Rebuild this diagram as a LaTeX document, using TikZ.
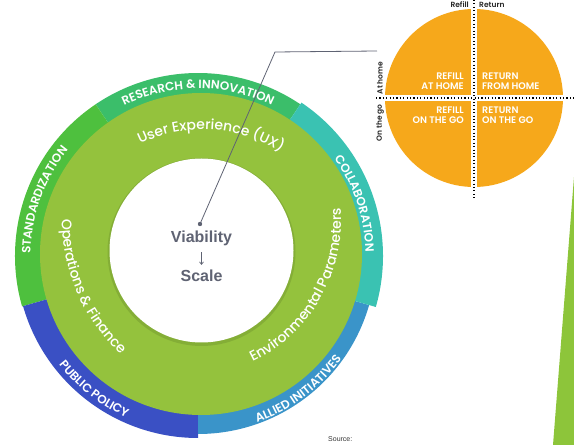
\documentclass[tikz,border=0pt]{standalone}
\usepackage{fontspec}
\setmainfont{Liberation Sans}
\newfontfamily\ringfont{Poppins}[UprightFont={* Medium},BoldFont={* SemiBold}]
\usetikzlibrary{arrows.meta,decorations.text}
\definecolor{research}{HTML}{3BBE6A}
\definecolor{standard}{HTML}{4EC03E}
\definecolor{collab}{HTML}{3AC2B2}
\definecolor{allied}{HTML}{3A94C9}
\definecolor{policy}{HTML}{3A50C4}
\definecolor{leaf}{HTML}{94C23D}
\definecolor{sun}{HTML}{F6A81B}
\definecolor{slate}{HTML}{5F6373}
\begin{document}
\begin{tikzpicture}[x=1pt,y=1pt,
  outer label/.style={decorate,decoration={text along path,text align=center,text color=white,
    text={|\ringfont\bfseries\fontsize{12}{12}\selectfont|#1}}},
  inner label/.style={decorate,decoration={text along path,text align=center,text color=white,
    text={|\ringfont\fontsize{14}{14}\selectfont|#1}}},
  quad node/.style={text=white,font=\ringfont\bfseries\fontsize{9.5}{10}\selectfont,inner sep=0pt},
  axis node/.style={text=black!85,font=\ringfont\bfseries\fontsize{7.5}{7.5}\selectfont,inner sep=0pt},
  core text/.style={text=slate,font=\bfseries\fontsize{16}{16}\selectfont,inner sep=0pt},
  dots/.style={line width=1.1pt,dash pattern=on 1.1pt off 2.3pt}]
\useasboundingbox (0,0) rectangle (574,445);
\coordinate (c) at (198,189);
\fill[research] (c) -- ([shift={(56:183pt)}]c) arc[start angle=56,end angle=124,radius=183pt] -- cycle;
\fill[standard] (c) -- ([shift={(124:183pt)}]c) arc[start angle=124,end angle=196,radius=183pt] -- cycle;
\fill[policy] (c) -- ([shift={(196:182pt)}]c) arc[start angle=196,end angle=270,radius=182pt] -- cycle;
\fill[allied] (c) -- ([shift={(270:178pt)}]c) arc[start angle=270,end angle=344,radius=178pt] -- cycle;
\fill[collab] (c) -- ([shift={(-16:185pt)}]c) arc[start angle=-16,end angle=56,radius=185pt] -- cycle;
\path[outer label={RESEARCH {\&} INNOVATION}] ([shift={(150:167.5pt)}]c) arc[start angle=150,end angle=30,radius=167.5pt];
\path[outer label=STANDARDIZATION] ([shift={(210:167.5pt)}]c) arc[start angle=210,end angle=110,radius=167.5pt];
\path[outer label=COLLABORATION] ([shift={(68:167.5pt)}]c) arc[start angle=68,end angle=-31,radius=167.5pt];
\path[outer label={PUBLIC POLICY}] ([shift={(182:176.5pt)}]c) arc[start angle=182,end angle=282,radius=176.5pt];
\path[outer label={ALLIED INITIATIVES}] ([shift={(257:176.5pt)}]c) arc[start angle=257,end angle=357,radius=176.5pt];
\fill[leaf] (201,191) circle (161pt);
\fill[black,opacity=0.1] (201.5,193) circle (94pt);
\fill[white] (201.5,194.5) circle (92pt);
\coordinate (ux) at (203,172);
\coordinate (ops) at (247.6,226.1);
\coordinate (env) at (185.4,223.6);
\path[inner label={User Experience (UX)}] ([shift={(136.6:143.5pt)}]ux) arc[start angle=136.6,end angle=36.6,radius=143.5pt];
\path[inner label={Operations {\&} Finance}] ([shift={(153.5:185.8pt)}]ops) arc[start angle=153.5,end angle=253.5,radius=185.8pt];
\path[inner label={Environmental Parameters}] ([shift={(-79.8:155.7pt)}]env) arc[start angle=-79.8,end angle=20.2,radius=155.7pt];
\node[core text,anchor=base] (via) at (201.5,202) {Viability};
\node[core text,anchor=base] (scale) at (201.5,163) {Scale};
\draw[slate,line width=0.7pt,-{Straight Barb[length=2.5pt,width=4pt]},shorten <=5.6pt,shorten >=5.3pt] (via) -- (scale);
\coordinate (pin) at (200,221);
\coordinate (bend) at (275,393);
\coordinate (tip) at (377,394);
\draw[slate,line width=0.8pt] (pin) -- (bend) -- (tip);
\fill[slate] (pin) circle (2.2pt);
\coordinate (o) at (474,347);
\fill[sun] (o) circle (89pt);
\draw[white,line width=5.5pt] ([yshift=90pt]o) -- ([yshift=-90pt]o);
\draw[white,line width=5.5pt] ([xshift=-90pt]o) -- ([xshift=90pt]o);
\draw[dots] ([yshift=98pt]o) -- ([yshift=-100pt]o);
\draw[dots] ([xshift=-98pt]o) -- ([xshift=100pt]o);
\node[quad node,anchor=east,align=right] (rh) at (464,364) {REFILL\\AT HOME};
\node[quad node,anchor=west,align=left] (th) at (482,364) {RETURN\\FROM HOME};
\node[quad node,anchor=east,align=right] (rg) at (464,330) {REFILL\\ON THE GO};
\node[quad node,anchor=west,align=left] (tg) at (482,330) {RETURN\\ON THE GO};
\node[axis node,anchor=east] (refill) at (469,440.5) {Refill};
\node[axis node,anchor=west] (return) at (479,440.5) {Return};
\node[axis node,rotate=90] (home) at (380,367) {At home};
\node[axis node,rotate=90] (go) at (380,322) {On the go};
\fill[leaf!95!green] (574,268) -- (553,0) -- (574,0) -- cycle;
\node[anchor=west,text=black!80,font=\fontsize{7}{8}\selectfont,inner sep=0pt] (source) at (328,5.5) {Source:};
\end{tikzpicture}
\end{document}
